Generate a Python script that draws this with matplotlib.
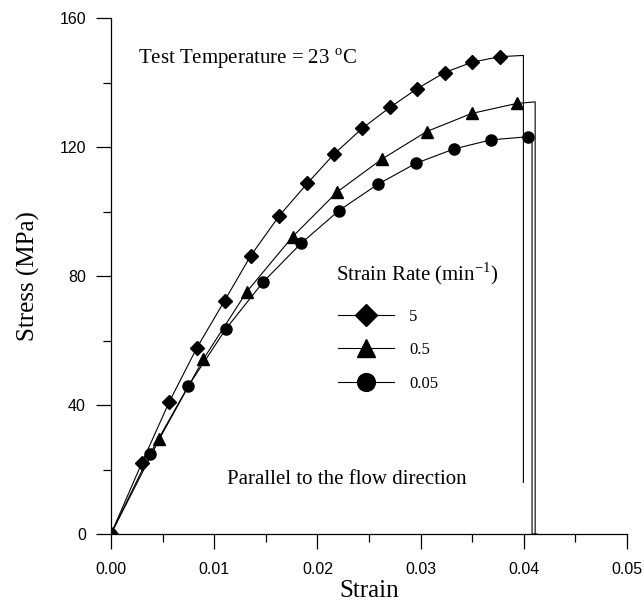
import numpy as np
import matplotlib.pyplot as plt
from matplotlib.ticker import MultipleLocator, FormatStrFormatter

plt.rcParams['mathtext.fontset'] = 'custom'
plt.rcParams['mathtext.rm'] = 'Liberation Serif'

# strain rate 5 min^-1
strain_5 = [0.0, 0.00297, 0.00565, 0.00833, 0.0110, 0.01354, 0.01631, 0.01902,
            0.02161, 0.02435, 0.02703, 0.02968, 0.03233, 0.03501, 0.03765]
stress_5 = [0.0, 21.9, 41.0, 57.8, 72.3, 86.3, 98.7, 108.7,
            117.8, 125.8, 132.3, 138.1, 143.1, 146.3, 148.0]
# strain rate 0.5 min^-1
strain_05 = [0.0, 0.00468, 0.00895, 0.01315, 0.0176, 0.02193, 0.02623,
             0.03059, 0.03495, 0.03931]
stress_05 = [0.0, 29.4, 54.2, 75.1, 92.2, 106.1, 116.2, 124.8, 130.4, 133.5]
# strain rate 0.05 min^-1
strain_005 = [0.0, 0.00378, 0.00749, 0.01111, 0.01476, 0.01841, 0.02209,
              0.02584, 0.02952, 0.03324, 0.03679, 0.04044]
stress_005 = [0.0, 24.8, 45.9, 63.5, 78.2, 90.1, 100.3, 108.4, 114.9,
              119.4, 122.2, 123.2]

# fracture tails
tail_5_x = [0.03765, 0.03996, 0.03996]
tail_5_y = [148.0, 148.4, 16.0]
tail_05_x = [0.03931, 0.0411, 0.0411]
tail_05_y = [133.5, 134.0, 0.0]
tail_005_x = [0.04044, 0.0408, 0.0408, 0.0413]
tail_005_y = [123.2, 123.0, 0.0, 0.0]

serif = 'Liberation Serif'
sans = 'Liberation Sans'

fig = plt.figure(figsize=(6.44, 6.02), dpi=100)
ax = fig.add_axes([111/644, 1-534/602, 516/644, 516/602])

lw = 0.8
ax.plot(strain_5, stress_5, '-', color='k', lw=lw, marker='D', ms=7, label='5')
ax.plot(strain_05, stress_05, '-', color='k', lw=lw, marker='^', ms=8, label='0.5')
ax.plot(strain_005, stress_005, '-', color='k', lw=lw, marker='o', ms=8, label='0.05')
ax.plot(tail_5_x, tail_5_y, '-', color='k', lw=lw)
ax.plot(tail_05_x, tail_05_y, '-', color='k', lw=lw)
ax.plot(tail_005_x, tail_005_y, '-', color='k', lw=lw)

ax.set_xlim(0, 0.05)
ax.set_ylim(0, 160)
ax.spines['top'].set_visible(False)
ax.spines['right'].set_visible(False)
ax.spines['left'].set_linewidth(0.9)
ax.spines['bottom'].set_linewidth(0.9)

ax.xaxis.set_major_locator(MultipleLocator(0.01))
ax.xaxis.set_minor_locator(MultipleLocator(0.005))
ax.xaxis.set_major_formatter(FormatStrFormatter('%.2f'))
ax.yaxis.set_major_locator(MultipleLocator(40))
ax.yaxis.set_minor_locator(MultipleLocator(20))
ax.tick_params(which='major', direction='out', length=11, width=0.9, pad=7)
ax.tick_params(which='minor', direction='out', length=6, width=0.9)
ax.tick_params(axis='x', which='major', pad=9)
for lab in ax.get_xticklabels() + ax.get_yticklabels():
    lab.set_fontfamily(sans)
    lab.set_fontsize(11.5)

ax.set_xlabel('Strain', fontfamily=serif, fontsize=18, labelpad=2)
ax.set_ylabel('Stress (MPa)', fontfamily=serif, fontsize=18, labelpad=14)

ax.text(0.0026, 147.2, 'Test Temperature = 23 $^{\\mathrm{o}}$C', fontfamily=serif,
        fontsize=15, va='center', ha='left')
ax.text(0.0218, 80.8, 'Strain Rate (min$^{\\mathrm{-1}}$)', fontfamily=serif,
        fontsize=15, va='center', ha='left')
ax.text(0.0112, 17.0, 'Parallel to the flow direction', fontfamily=serif,
        fontsize=15, va='center', ha='left')

leg = ax.legend(loc='upper left', bbox_to_anchor=(0.41, 0.466), frameon=False,
                prop={'family': serif, 'size': 12}, markerscale=1.6,
                handlelength=3.4, handletextpad=0.9, labelspacing=1.05)

fig.savefig('out.png', dpi=100)
